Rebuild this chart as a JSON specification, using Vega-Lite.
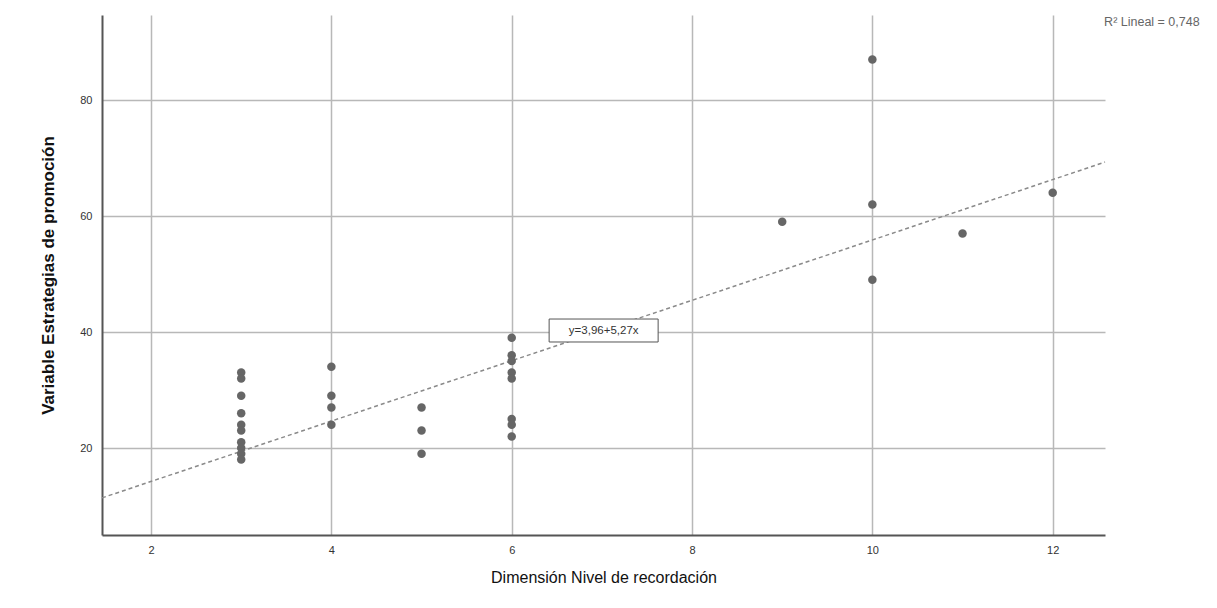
{
  "$schema": "https://vega.github.io/schema/vega-lite/v6.json",
  "width": 1003,
  "height": 520,
  "autosize": "none",
  "padding": {"left": 102, "top": 15, "right": 112, "bottom": 73},
  "background": "white",
  "config": {"view": {"stroke": null}, "font": "Liberation Sans"},
  "datasets": {
    "points": [
      {"x": 3, "y": 33}, {"x": 3, "y": 32}, {"x": 3, "y": 29}, {"x": 3, "y": 26}, {"x": 3, "y": 24},
      {"x": 3, "y": 23}, {"x": 3, "y": 21}, {"x": 3, "y": 20}, {"x": 3, "y": 19}, {"x": 3, "y": 18},
      {"x": 4, "y": 34}, {"x": 4, "y": 29}, {"x": 4, "y": 27}, {"x": 4, "y": 24},
      {"x": 5, "y": 27}, {"x": 5, "y": 23}, {"x": 5, "y": 19},
      {"x": 6, "y": 39}, {"x": 6, "y": 36}, {"x": 6, "y": 35}, {"x": 6, "y": 33}, {"x": 6, "y": 32},
      {"x": 6, "y": 25}, {"x": 6, "y": 24}, {"x": 6, "y": 22},
      {"x": 9, "y": 59},
      {"x": 10, "y": 87}, {"x": 10, "y": 62}, {"x": 10, "y": 49},
      {"x": 11, "y": 57},
      {"x": 12, "y": 64}
    ],
    "fit": [{"x": 1.456, "y": 11.4}, {"x": 12.58, "y": 69.3}],
    "eq": [{"x": 7.02, "y": 40.1, "x0": 6.415, "x1": 7.624, "y0": 38.28, "y1": 42.24, "text": "y=3,96+5,27x"}],
    "r2": [{"x": 12.57, "y": 93.4, "text": "R² Lineal = 0,748"}]
  },
  "layer": [
    {
      "data": {"name": "fit"},
      "mark": {"type": "line", "color": "#8a8a8a", "strokeWidth": 1.5, "strokeDash": [4, 3]},
      "encoding": {
        "x": {
          "field": "x", "type": "quantitative", "title": "Dimensión Nivel de recordación",
          "scale": {"domain": [1.456, 12.58], "nice": false, "zero": false},
          "axis": {
            "values": [2, 4, 6, 8, 10, 12], "format": "d", "grid": true, "gridColor": "#b8b8b8", "gridWidth": 1.5,
            "domainColor": "#555555", "domainWidth": 2, "ticks": false, "labelPadding": 9,
            "labelFontSize": 11, "labelColor": "#333333", "titleFontSize": 16, "titleFontWeight": "normal",
            "titleColor": "#111111", "titlePadding": 14
          }
        },
        "y": {
          "field": "y", "type": "quantitative", "title": "Variable Estrategias de promoción",
          "scale": {"domain": [5, 94.66], "nice": false, "zero": false},
          "axis": {
            "values": [20, 40, 60, 80], "format": "d", "grid": true, "gridColor": "#b8b8b8", "gridWidth": 1.5,
            "domainColor": "#555555", "domainWidth": 2, "ticks": false, "labelPadding": 10,
            "labelFontSize": 11, "labelColor": "#333333", "titleFontSize": 17, "titleFontWeight": "bold",
            "titleColor": "#111111", "titlePadding": 22
          }
        }
      }
    },
    {
      "data": {"name": "points"},
      "mark": {"type": "point", "filled": true, "size": 72, "color": "#666666", "opacity": 1},
      "encoding": {
        "x": {"field": "x", "type": "quantitative", "title": "Dimensión Nivel de recordación"},
        "y": {"field": "y", "type": "quantitative", "title": "Variable Estrategias de promoción"}
      }
    },
    {
      "data": {"name": "eq"},
      "mark": {"type": "rect", "fill": "white", "stroke": "#555555", "strokeWidth": 1},
      "encoding": {
        "x": {"field": "x0", "type": "quantitative", "title": "Dimensión Nivel de recordación"},
        "x2": {"field": "x1"},
        "y": {"field": "y0", "type": "quantitative", "title": "Variable Estrategias de promoción"},
        "y2": {"field": "y1"}
      }
    },
    {
      "data": {"name": "eq"},
      "mark": {"type": "text", "fontSize": 11.5, "color": "#333333", "align": "center", "baseline": "middle"},
      "encoding": {
        "x": {"field": "x", "type": "quantitative", "title": "Dimensión Nivel de recordación"},
        "y": {"field": "y", "type": "quantitative", "title": "Variable Estrategias de promoción"},
        "text": {"field": "text"}
      }
    },
    {
      "data": {"name": "r2"},
      "mark": {"type": "text", "fontSize": 12.5, "color": "#666666", "align": "left", "baseline": "middle"},
      "encoding": {
        "x": {"field": "x", "type": "quantitative", "title": "Dimensión Nivel de recordación"},
        "y": {"field": "y", "type": "quantitative", "title": "Variable Estrategias de promoción"},
        "text": {"field": "text"}
      }
    }
  ]
}
